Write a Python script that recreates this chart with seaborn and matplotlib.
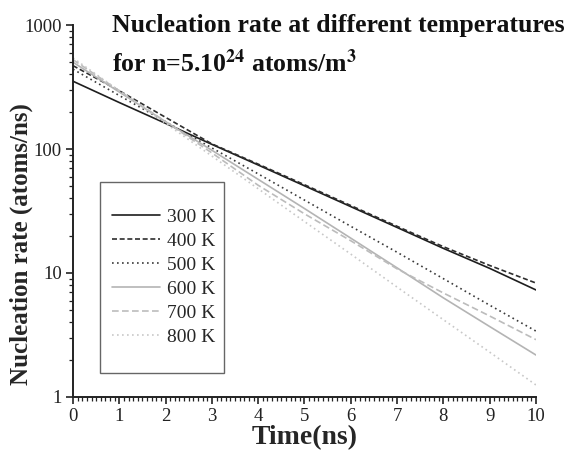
import matplotlib
matplotlib.use("Agg")
import matplotlib.pyplot as plt
import matplotlib.ticker as mticker
from matplotlib.patches import Rectangle
import seaborn as sns
import pandas as pd

time_ns = [0, 1, 2, 3, 4, 5, 6, 7, 8, 9, 10]
rate_300K = [352, 237, 161, 109, 74.3, 50.5, 34.3, 23.3, 15.8, 10.9, 7.3]
rate_400K = [470, 295, 180, 110, 75.5, 51.5, 35.0, 23.8, 16.3, 11.5, 8.3]
rate_500K = [440, 270, 166, 102, 63.0, 38.7, 23.8, 14.7, 9.0, 5.5, 3.4]
rate_600K = [501, 288, 166, 97.7, 56.9, 33.1, 19.1, 11.0, 6.3, 3.7, 2.18]
rate_700K = [525, 295, 166, 93.0, 51.0, 30.0, 18.2, 10.8, 6.9, 4.5, 2.9]
rate_800K = [542, 295, 161, 87.7, 47.8, 26.0, 14.2, 7.7, 4.2, 2.3, 1.25]
labels = ["300 K", "400 K", "500 K", "600 K", "700 K", "800 K"]

series = [rate_300K, rate_400K, rate_500K, rate_600K, rate_700K, rate_800K]
rows = []
for lab, vals in zip(labels, series):
    for t, v in zip(time_ns, vals):
        rows.append({"t": t, "rate": v, "T": lab})
df = pd.DataFrame(rows)

sns.set_style("ticks")
plt.rcParams["font.family"] = ["Liberation Serif", "DejaVu Serif"]
plt.rcParams["mathtext.fontset"] = "stix"

fig = plt.figure(figsize=(5.72, 4.58), dpi=100)
ax = fig.add_axes([0.1276, 0.1332, 0.8094, 0.8122])

palette = {"300 K": "#1e1e1e", "400 K": "#2e2e2e", "500 K": "#3a3a3a",
           "600 K": "#b4b4b4", "700 K": "#bcbcbc", "800 K": "#c8c8c8"}
dashes = {"300 K": "", "400 K": (3, 1.6), "500 K": (1, 2),
          "600 K": "", "700 K": (4, 2), "800 K": (1, 2)}
sns.lineplot(data=df, x="t", y="rate", hue="T", style="T", hue_order=labels,
             style_order=labels, palette=palette, dashes=dashes, ax=ax,
             linewidth=1.2)

ax.set_yscale("log")
ax.set_xlim(0, 10)
ax.set_ylim(1, 1000)
ax.xaxis.set_major_locator(mticker.MultipleLocator(1))
ax.xaxis.set_minor_locator(mticker.MultipleLocator(0.1))
ax.yaxis.set_major_locator(mticker.LogLocator(base=10))
ax.yaxis.set_minor_locator(mticker.LogLocator(base=10, subs=range(2, 10)))
ax.yaxis.set_major_formatter(mticker.FuncFormatter(lambda v, p: f"{v:g}"))
ax.yaxis.set_minor_formatter(mticker.NullFormatter())
ax.tick_params(axis="both", which="major", length=5, width=1.2, labelsize=13.5, color="#222", labelcolor="#222", pad=3)
ax.tick_params(axis="both", which="minor", length=3, width=0.9, color="#222")
for s in ["top", "right"]:
    ax.spines[s].set_visible(False)
for s in ["left", "bottom"]:
    ax.spines[s].set_linewidth(1.4)
    ax.spines[s].set_color("#222")

ax.set_xlabel("Time(ns)", fontsize=20, fontweight="bold", labelpad=0)
ax.set_ylabel("Nucleation rate (atoms/ns)", fontsize=18, fontweight="bold")
ax.yaxis.set_label_coords(-0.086, 0.41)

ax.text(0.085, 1.03, "Nucleation rate at different temperatures", transform=ax.transAxes,
        fontsize=18.5, fontweight="bold", va="top", ha="left", color="#111")
ax.text(0.085, 0.935, r"for n=5.10$^{\mathbf{24}}$ atoms/m$^{\mathbf{3}}$", transform=ax.transAxes,
        fontsize=18.5, fontweight="bold", va="top", ha="left", color="#111")

leg = ax.legend(loc="upper left", bbox_to_anchor=(0.084, 0.507), fontsize=14,
                frameon=False, handlelength=2.5,
                labelspacing=0.33, borderpad=0, handletextpad=0.35,
                borderaxespad=0)
ax.add_patch(Rectangle((0.0583, 0.0645), 0.2677, 0.5135, transform=ax.transAxes,
                       fill=False, edgecolor="#666", linewidth=1.0, zorder=5))

fig.savefig("out.png", dpi=100)
